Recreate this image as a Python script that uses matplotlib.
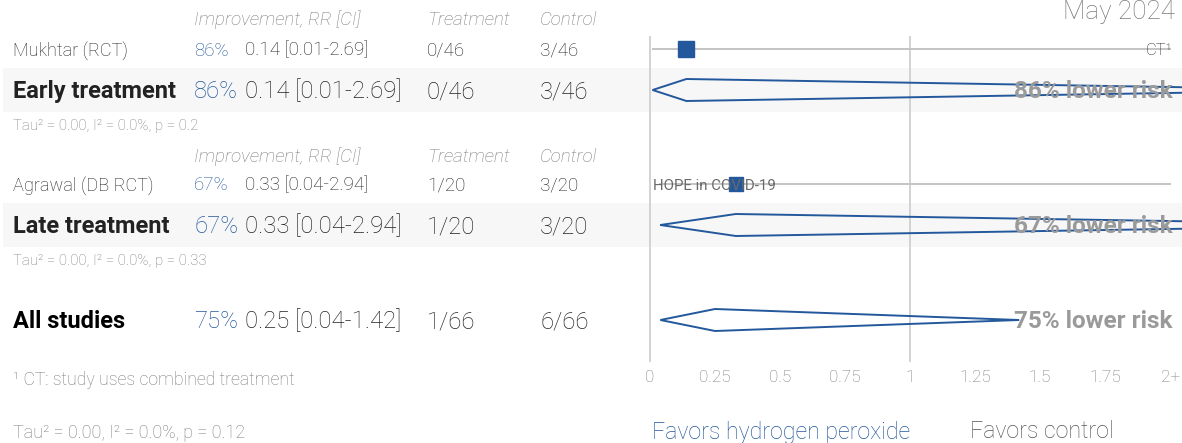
import matplotlib

matplotlib.use("Agg")
import matplotlib.pyplot as plt
from matplotlib.patches import Polygon, Rectangle

plt.rcParams["font.family"] = ["Roboto", "DejaVu Sans"]
plt.rcParams["font.weight"] = "light"

# individual studies
studies = ["Mukhtar (RCT)", "Agrawal (DB RCT)"]
study_rr = [0.14, 0.33]
study_lo = [0.01, 0.04]
study_hi = [2.69, 2.94]
study_treat = ["0/46", "1/20"]
study_ctrl = ["3/46", "3/20"]
study_note = ["CT\u00b9", "HOPE in COVID-19"]

# pooled estimates
groups = ["Early treatment", "Late treatment", "All studies"]
group_rr = [0.14, 0.33, 0.25]
group_lo = [0.01, 0.04, 0.04]
group_hi = [2.69, 2.94, 1.42]
group_treat = ["0/46", "1/20", "1/66"]
group_ctrl = ["3/46", "3/20", "6/66"]
group_stats = [
    "Tau\u00b2 = 0.00, I\u00b2 = 0.0%, p = 0.2",
    "Tau\u00b2 = 0.00, I\u00b2 = 0.0%, p = 0.33",
    "Tau\u00b2 = 0.00, I\u00b2 = 0.0%, p = 0.12",
]

tick_vals = [0, 0.25, 0.5, 0.75, 1, 1.25, 1.5, 1.75, 2]
tick_labels = ["0", "0.25", "0.5", "0.75", "1", "1.25", "1.5", "1.75", "2+"]

# layout (pixel rows / columns)
W, H = 1182, 443
COL_NAME, COL_PCT, COL_RR, COL_T, COL_C = 13, 194, 245, 427, 540
HEADER_Y = [20, 157]
STUDY_Y = [50.5, 185.5]
GROUP_Y = [91.5, 226.5, 321.5]
STATS_Y = [126, 261, 433]
BANDS = [(68, 112), (203, 247)]
PLOT_X0, PX_PER_UNIT = 650, 260
SQUARE_PX = [16, 14]
DIAMOND_HALF = 11

BLUE = "#24589c"
TEXT = "#222222"
GREY = "#7c7c7c"

fig = plt.figure(figsize=(W / 100, H / 100), dpi=100)
bg = fig.add_axes([0, 0, 1, 1])
bg.set_xlim(0, W)
bg.set_ylim(H, 0)
bg.axis("off")

for y0, y1 in BANDS:
    bg.add_patch(Rectangle((3, y0), W, y1 - y0, color="#f7f7f7", lw=0, zorder=0))

for y in HEADER_Y:
    for x, s in [(COL_PCT, "Improvement, RR [CI]"), (COL_T, "Treatment"), (COL_C, "Control")]:
        bg.text(x, y, s, style="italic", color=GREY, fontsize=13.5, va="center")


def row(y, name, rr, lo, hi, tr, ct, big):
    fs = 17.2 if big else 13.6
    bg.text(COL_NAME, y, name, fontsize=17 if big else 13.1, color="#000000" if name == "All studies" else TEXT,
            fontweight="bold" if big else "light", va="center")
    bg.text(COL_PCT, y, f"{round((1 - rr) * 100)}%", fontsize=fs, color=BLUE, va="center")
    bg.text(COL_RR, y, f"{rr:.2f} [{lo:.2f}-{hi:.2f}]", fontsize=fs, color=TEXT, va="center")
    bg.text(COL_T, y, tr, fontsize=fs, color=TEXT, va="center")
    bg.text(COL_C, y, ct, fontsize=fs, color=TEXT, va="center")


for i in range(len(studies)):
    row(STUDY_Y[i], studies[i], study_rr[i], study_lo[i], study_hi[i], study_treat[i], study_ctrl[i], False)
for i in range(len(groups)):
    row(GROUP_Y[i], groups[i], group_rr[i], group_lo[i], group_hi[i], group_treat[i], group_ctrl[i], True)
    bg.text(COL_NAME, STATS_Y[i], group_stats[i], fontsize=13 if i == 2 else 10.8, color=GREY, va="center")

bg.text(COL_NAME, 380, "\u00b9 CT: study uses combined treatment", fontsize=12.7, color=GREY, va="center")
bg.text(1175, 12, "May 2024", fontsize=18.8, color=GREY, ha="right", va="center")

# forest plot
ax = fig.add_axes([PLOT_X0 / W, 0, 1 - PLOT_X0 / W, 1])
ax.set_xlim(0, (W - PLOT_X0) / PX_PER_UNIT)
ax.set_ylim(H, 0)
ax.axis("off")
ax.patch.set_alpha(0)

ax.vlines([0, 1], 36, 362, color="#d0d0d0", lw=1.3, clip_on=False, zorder=1)
for v, lab in zip(tick_vals, tick_labels):
    ax.text(v, 378, lab, fontsize=12.3, color=GREY, ha="center", va="center")

for i in range(len(studies)):
    y = STUDY_Y[i] - 1.5
    ax.plot([study_lo[i], min(study_hi[i], 2)], [y, y], color="#c4c4c4", lw=1.4, zorder=2)
    ax.plot(study_rr[i], y, marker="s", ms=SQUARE_PX[i] * 0.72, color=BLUE, mec=BLUE, zorder=3)
ax.text(2.01, STUDY_Y[0], study_note[0], fontsize=12, color=TEXT, ha="right", va="center", zorder=4)
ax.text(0.01, STUDY_Y[1], study_note[1], fontsize=10.8, fontweight="normal", color="#6a6a6a",
        ha="left", va="center", zorder=4)

for i in range(len(groups)):
    y = GROUP_Y[i] - 1.5
    pts = [(group_lo[i], y), (group_rr[i], y - DIAMOND_HALF), (group_hi[i], y), (group_rr[i], y + DIAMOND_HALF)]
    ax.add_patch(Polygon(pts, closed=True, fill=False, ec=BLUE, lw=1.4, zorder=3))
    ax.text(2.01, y + 1, f"{round((1 - group_rr[i]) * 100)}% lower risk", fontsize=17.5, fontweight="bold",
            color="#9a9a9a", ha="right", va="center", zorder=4)

bg.text(652, 432, "Favors hydrogen peroxide", fontsize=16.7, color=BLUE, va="center")
bg.text(970, 432, "Favors control", fontsize=16.7, color="#555555", va="center")

fig.savefig("out.png", dpi=100)
